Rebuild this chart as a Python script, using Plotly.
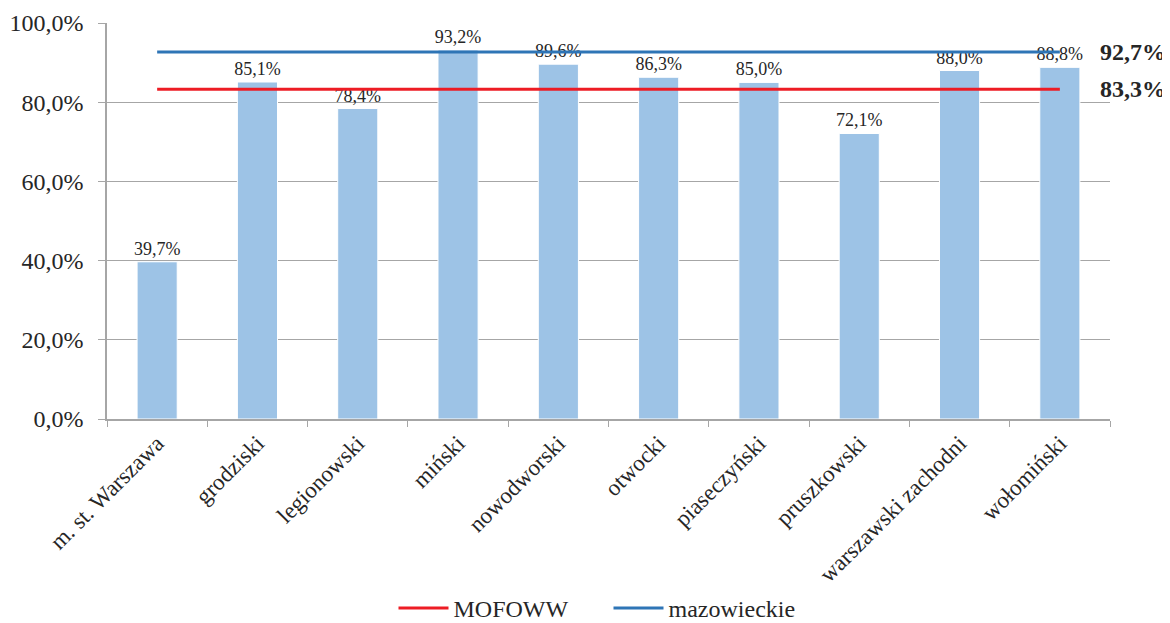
import plotly.graph_objects as go

categories = ["m. st. Warszawa", "grodziski", "legionowski", "miński", "nowodworski",
              "otwocki", "piaseczyński", "pruszkowski", "warszawski zachodni", "wołomiński"]
values = [39.7, 85.1, 78.4, 93.2, 89.6, 86.3, 85.0, 72.1, 88.0, 88.8]
mofoww = 83.3
mazowieckie = 92.7
tick_vals = [0, 20, 40, 60, 80, 100]
tick_text = ["0,0%", "20,0%", "40,0%", "60,0%", "80,0%", "100,0%"]

def pl(v):
    return f"{v:.1f}".replace(".", ",") + "%"

FONT = "Liberation Serif"

fig = go.Figure()
fig.add_trace(go.Bar(
    x=categories, y=values, width=0.4,
    marker=dict(color="#9DC3E6", line=dict(color="white", width=1)),
    text=[pl(v) for v in values], textposition="outside", constraintext="none",
    textfont=dict(family=FONT, size=18, color="#262626"),
    cliponaxis=False, showlegend=False, hoverinfo="skip",
))
fig.add_trace(go.Scatter(
    x=categories, y=[mofoww] * len(categories), mode="lines",
    line=dict(color="#ED1C24", width=3), name="MOFOWW",
))
fig.add_trace(go.Scatter(
    x=categories, y=[mazowieckie] * len(categories), mode="lines",
    line=dict(color="#2E75B6", width=3), name="mazowieckie",
))

for val in (mazowieckie, mofoww):
    fig.add_annotation(xref="paper", yref="y", x=1.0, y=val, xanchor="left",
                       xshift=-12, text="<b>" + pl(val) + "</b>", showarrow=False,
                       font=dict(family=FONT, size=24, color="#262626"))

fig.update_layout(
    width=1170, height=623,
    margin=dict(l=99, r=68, t=15, b=212, autoexpand=False),
    paper_bgcolor="white", plot_bgcolor="white",
    font=dict(family=FONT, color="#262626"),
    bargap=0.6,
    legend=dict(orientation="h", x=0.5, xanchor="center", yref="container",
                y=0.0, yanchor="bottom", font=dict(family=FONT, size=24),
                itemwidth=50, entrywidth=150),
)
fig.update_xaxes(
    type="category", tickangle=-45, tickfont=dict(family=FONT, size=23),
    showline=True, linecolor="#A6A6A6", linewidth=1.5, automargin=False,
    ticks="outside", tickson="boundaries", ticklen=6, tickcolor="#A6A6A6",
    showgrid=False,
)
fig.update_yaxes(
    range=[0, 100], tickvals=tick_vals, ticktext=tick_text,
    tickfont=dict(family=FONT, size=24), automargin=False,
    showgrid=True, gridcolor="#A6A6A6", gridwidth=1,
    showline=True, linecolor="#A6A6A6", linewidth=1.5,
    ticks="outside", ticklen=7, tickcolor="#A6A6A6", zeroline=False,
    ticklabelstandoff=10,
)

fig.write_html("out.html")
